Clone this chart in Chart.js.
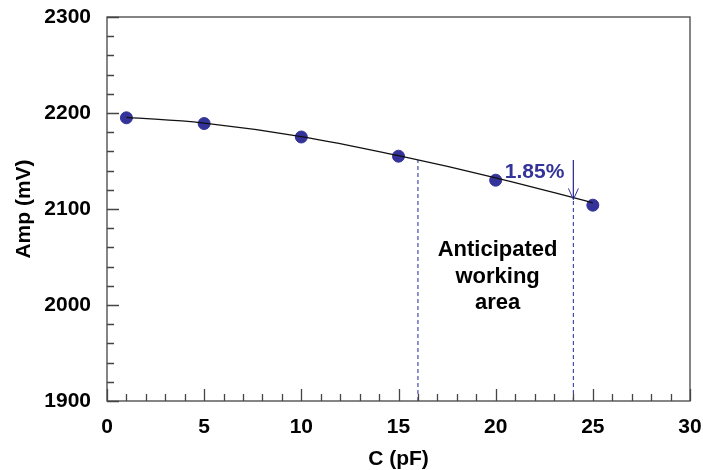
<!DOCTYPE html>
<html>
<head>
<meta charset="utf-8">
<script src="https://cdn.jsdelivr.net/npm/chart.js@4"></script>
<style>
  html, body { margin: 0; padding: 0; background: #fff; }
  #wrap { width: 703px; height: 470px; }
</style>
</head>
<body>
<div id="wrap"><canvas id="ampChart"></canvas></div>
<script>
// measured points
const capPf = [1, 5, 10, 15, 20, 25];
const ampMv = [2195, 2189, 2175, 2155, 2130, 2104];
// trend line through the measurements
const trendPf = [1, 5, 10, 15, 20, 25];
const trendMv = [2195.5, 2189.5, 2175.5, 2155.5, 2132.5, 2106.5];
// working area limits
const areaStart = 16;
const areaEnd = 24;
const areaStartTop = 2151;
const areaEndTop = 2110;
const arrowTop = 2151;
const dropLabel = "1.85%";
const areaLabel = ["Anticipated", "working", "area"];

const xTicks = [0, 5, 10, 15, 20, 25, 30];
const yTicks = [1900, 2000, 2100, 2200, 2300];

const blue = "#333399";
const font = "Liberation Sans, Arial, sans-serif";

function pts(xs, ys) {
  return xs.map((x, i) => ({ x: x, y: ys[i] }));
}

// box, inward tick marks, arrow head and notes
const decor = {
  id: "decor",
  afterDatasetsDraw(chart) {
    const ctx = chart.ctx;
    const a = chart.chartArea;
    const xs = chart.scales.x;
    const ys = chart.scales.y;
    ctx.save();
    ctx.strokeStyle = "#444";
    ctx.lineWidth = 1.3;
    ctx.strokeRect(a.left, a.top, a.right - a.left, a.bottom - a.top);

    ctx.beginPath();
    for (let v = 0; v <= 30; v++) {
      const px = Math.round(xs.getPixelForValue(v)) + 0.5;
      const len = v % 5 === 0 ? 12 : 7;
      ctx.moveTo(px, a.bottom);
      ctx.lineTo(px, a.bottom - len);
    }
    for (let v = 1900; v <= 2300; v += 20) {
      const py = Math.round(ys.getPixelForValue(v)) + 0.5;
      const len = v % 100 === 0 ? 12 : 7;
      ctx.moveTo(a.left, py);
      ctx.lineTo(a.left + len, py);
    }
    ctx.stroke();

    // arrow head
    const ax = xs.getPixelForValue(areaEnd);
    const ay = ys.getPixelForValue(areaEndTop);
    ctx.strokeStyle = blue;
    ctx.lineWidth = 1;
    ctx.beginPath();
    ctx.moveTo(ax - 5, ay - 11);
    ctx.lineTo(ax, ay);
    ctx.lineTo(ax + 5, ay - 11);
    ctx.stroke();

    ctx.textAlign = "center";
    ctx.textBaseline = "middle";
    ctx.font = "bold 21px " + font;
    ctx.fillStyle = blue;
    ctx.fillText(dropLabel, xs.getPixelForValue(22), ys.getPixelForValue(2138));
    ctx.font = "bold 22px " + font;
    ctx.fillStyle = "#000";
    const lineY = [2057, 2029, 2002];
    areaLabel.forEach((t, i) => {
      ctx.fillText(t, xs.getPixelForValue(20.1), ys.getPixelForValue(lineY[i]));
    });
    ctx.restore();
  }
};

new Chart(document.getElementById("ampChart"), {
  type: "scatter",
  data: {
    datasets: [
      {
        label: "trend",
        type: "line",
        data: pts(trendPf, trendMv),
        borderColor: "#111",
        borderWidth: 1.3,
        pointRadius: 0,
        tension: 0.4,
        fill: false
      },
      {
        label: "start",
        type: "line",
        data: [{ x: areaStart, y: 1900 }, { x: areaStart, y: areaStartTop }],
        borderColor: "#4a4aaa",
        borderWidth: 1.2,
        borderDash: [4, 3],
        pointRadius: 0
      },
      {
        label: "end",
        type: "line",
        data: [{ x: areaEnd, y: 1900 }, { x: areaEnd, y: areaEndTop }],
        borderColor: "#4a4aaa",
        borderWidth: 1.2,
        borderDash: [4, 3],
        pointRadius: 0
      },
      {
        label: "arrow",
        type: "line",
        data: [{ x: areaEnd, y: arrowTop }, { x: areaEnd, y: areaEndTop }],
        borderColor: blue,
        borderWidth: 1,
        pointRadius: 0
      },
      {
        label: "Amp",
        data: pts(capPf, ampMv),
        backgroundColor: blue,
        borderColor: blue,
        pointRadius: 6,
        pointHoverRadius: 6
      }
    ]
  },
  options: {
    responsive: true,
    maintainAspectRatio: false,
    animation: false,
    layout: { padding: { left: 0, right: 13, top: 17, bottom: 0 } },
    plugins: { legend: { display: false }, tooltip: { enabled: false } },
    scales: {
      x: {
        type: "linear",
        min: 0,
        max: 30,
        afterBuildTicks: s => { s.ticks = xTicks.map(v => ({ value: v })); },
        afterFit: s => { s.height = 69; s.paddingLeft = 0; s.paddingRight = 0; },
        grid: { display: false, drawTicks: false },
        border: { display: false },
        ticks: { color: "#000", padding: 14, font: { family: font, size: 21, weight: "bold" } },
        title: {
          display: true,
          text: "C (pF)",
          color: "#000",
          padding: { top: 0, bottom: -2 },
          font: { family: font, size: 21, weight: "bold" }
        }
      },
      y: {
        type: "linear",
        min: 1900,
        max: 2300,
        afterBuildTicks: s => { s.ticks = yTicks.map(v => ({ value: v })); },
        afterFit: s => { s.width = 107; s.paddingTop = 0; s.paddingBottom = 0; },
        grid: { display: false, drawTicks: false },
        border: { display: false },
        ticks: {
          color: "#000",
          padding: 16,
          callback: v => String(v),
          font: { family: font, size: 21, weight: "bold" }
        },
        title: {
          display: true,
          text: "Amp (mV)",
          color: "#000",
          padding: { top: 12, bottom: 0 },
          font: { family: font, size: 21, weight: "bold" }
        }
      }
    }
  },
  plugins: [decor]
});
</script>
</body>
</html>
